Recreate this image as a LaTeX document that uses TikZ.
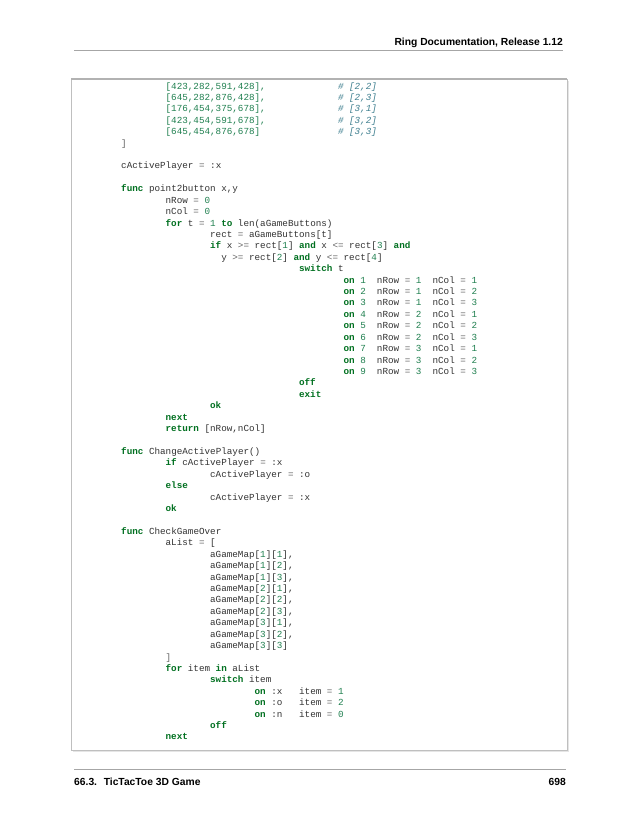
\documentclass[tikz,border=0pt]{standalone}
\usepackage{fontspec}
\setmainfont{Liberation Sans}
\setmonofont{Liberation Mono}
\definecolor{kw}{HTML}{007020}
\definecolor{nm}{HTML}{208050}
\definecolor{op}{HTML}{666666}
\definecolor{cm}{HTML}{408090}
\definecolor{tx}{HTML}{333333}
\newcommand\K[1]{\textcolor{kw}{\bfseries #1}}
\newcommand\N[1]{\textcolor{nm}{#1}}
\newcommand\Op[1]{\textcolor{op}{#1}}
\newcommand\Cm[1]{\textcolor{cm}{\itshape #1}}
\newcommand\cl[4]{\node[codeline] (#1) at ({121+#2*5.56},{-(89+(#3-1)*11.42)}) {#4};}
\tikzset{codeline/.style={anchor=base west,inner sep=0pt,text=tx,font=\ttfamily\fontsize{9.27}{11}\selectfont},
  hdr/.style={inner sep=0pt,font=\bfseries\fontsize{10.3}{12}\selectfont}}
\begin{document}
\begin{tikzpicture}[x=1pt,y=1pt]
\useasboundingbox (0,0) rectangle (638,-825);
\fill[white] (0,0) rectangle (638,-825);
% header
\node[hdr,anchor=base east] (head) at (563,-45) {Ring Documentation, Release 1.12};
\draw[gray!70,line width=1pt] (74,-50) -- (563,-50);
% code box
\draw[gray!20,line width=1.5pt] (73,-751.5) -- (568.5,-751.5) -- (568.5,-81);
\draw[gray!50,line width=0.6pt] (71,-79) rectangle (567,-750);
\draw[gray!60,line width=1.2pt] (71,-79) -- (567,-79);
% footer
\draw[gray!70,line width=0.8pt] (74,-769) -- (566,-769);
\node[hdr,anchor=base west] (foot) at (74,-785) {66.3. \ TicTacToe 3D Game};
\node[hdr,anchor=base east] (page) at (566,-785) {698};
% code
\cl{c1}{8}{1}{\N{[423,282,591,428],}}
\cl{d1}{39}{1}{\Cm{\# [2,2]}}
\cl{c2}{8}{2}{\N{[645,282,876,428],}}
\cl{d2}{39}{2}{\Cm{\# [2,3]}}
\cl{c3}{8}{3}{\N{[176,454,375,678],}}
\cl{d3}{39}{3}{\Cm{\# [3,1]}}
\cl{c4}{8}{4}{\N{[423,454,591,678],}}
\cl{d4}{39}{4}{\Cm{\# [3,2]}}
\cl{c5}{8}{5}{\N{[645,454,876,678]}}
\cl{d5}{39}{5}{\Cm{\# [3,3]}}
\cl{c6}{0}{6}{\Op{]}}
\cl{c8}{0}{8}{cActivePlayer \Op{=} :x}
\cl{c10}{0}{10}{\K{func} point2button x,y}
\cl{c11}{8}{11}{nRow \Op{=} \N{0}}
\cl{c12}{8}{12}{nCol \Op{=} \N{0}}
\cl{c13}{8}{13}{\K{for} t \Op{=} \N{1} \K{to} len(aGameButtons)}
\cl{c14}{16}{14}{rect \Op{=} aGameButtons[t]}
\cl{c15}{16}{15}{\K{if} x \Op{>=} rect[\N{1}] \K{and} x \Op{<=} rect[\N{3}] \K{and}}
\cl{c16}{18}{16}{y \Op{>=} rect[\N{2}] \K{and} y \Op{<=} rect[\N{4}]}
\cl{c17}{32}{17}{\K{switch} t}
\cl{c18}{40}{18}{\K{on} \N{1}~ nRow \Op{=} \N{1}~ nCol \Op{=} \N{1}}
\cl{c19}{40}{19}{\K{on} \N{2}~ nRow \Op{=} \N{1}~ nCol \Op{=} \N{2}}
\cl{c20}{40}{20}{\K{on} \N{3}~ nRow \Op{=} \N{1}~ nCol \Op{=} \N{3}}
\cl{c21}{40}{21}{\K{on} \N{4}~ nRow \Op{=} \N{2}~ nCol \Op{=} \N{1}}
\cl{c22}{40}{22}{\K{on} \N{5}~ nRow \Op{=} \N{2}~ nCol \Op{=} \N{2}}
\cl{c23}{40}{23}{\K{on} \N{6}~ nRow \Op{=} \N{2}~ nCol \Op{=} \N{3}}
\cl{c24}{40}{24}{\K{on} \N{7}~ nRow \Op{=} \N{3}~ nCol \Op{=} \N{1}}
\cl{c25}{40}{25}{\K{on} \N{8}~ nRow \Op{=} \N{3}~ nCol \Op{=} \N{2}}
\cl{c26}{40}{26}{\K{on} \N{9}~ nRow \Op{=} \N{3}~ nCol \Op{=} \N{3}}
\cl{c27}{32}{27}{\K{off}}
\cl{c28}{32}{28}{\K{exit}}
\cl{c29}{16}{29}{\K{ok}}
\cl{c30}{8}{30}{\K{next}}
\cl{c31}{8}{31}{\K{return} [nRow,nCol]}
\cl{c33}{0}{33}{\K{func} ChangeActivePlayer()}
\cl{c34}{8}{34}{\K{if} cActivePlayer \Op{=} :x}
\cl{c35}{16}{35}{cActivePlayer \Op{=} :o}
\cl{c36}{8}{36}{\K{else}}
\cl{c37}{16}{37}{cActivePlayer \Op{=} :x}
\cl{c38}{8}{38}{\K{ok}}
\cl{c40}{0}{40}{\K{func} CheckGameOver}
\cl{c41}{8}{41}{aList \Op{=} [}
\cl{c42}{16}{42}{aGameMap[\N{1}][\N{1}],}
\cl{c43}{16}{43}{aGameMap[\N{1}][\N{2}],}
\cl{c44}{16}{44}{aGameMap[\N{1}][\N{3}],}
\cl{c45}{16}{45}{aGameMap[\N{2}][\N{1}],}
\cl{c46}{16}{46}{aGameMap[\N{2}][\N{2}],}
\cl{c47}{16}{47}{aGameMap[\N{2}][\N{3}],}
\cl{c48}{16}{48}{aGameMap[\N{3}][\N{1}],}
\cl{c49}{16}{49}{aGameMap[\N{3}][\N{2}],}
\cl{c50}{16}{50}{aGameMap[\N{3}][\N{3}]}
\cl{c51}{8}{51}{\Op{]}}
\cl{c52}{8}{52}{\K{for} item \K{in} aList}
\cl{c53}{16}{53}{\K{switch} item}
\cl{c54}{24}{54}{\K{on} :x~~ item \Op{=} \N{1}}
\cl{c55}{24}{55}{\K{on} :o~~ item \Op{=} \N{2}}
\cl{c56}{24}{56}{\K{on} :n~~ item \Op{=} \N{0}}
\cl{c57}{16}{57}{\K{off}}
\cl{c58}{8}{58}{\K{next}}
\end{tikzpicture}
\end{document}
